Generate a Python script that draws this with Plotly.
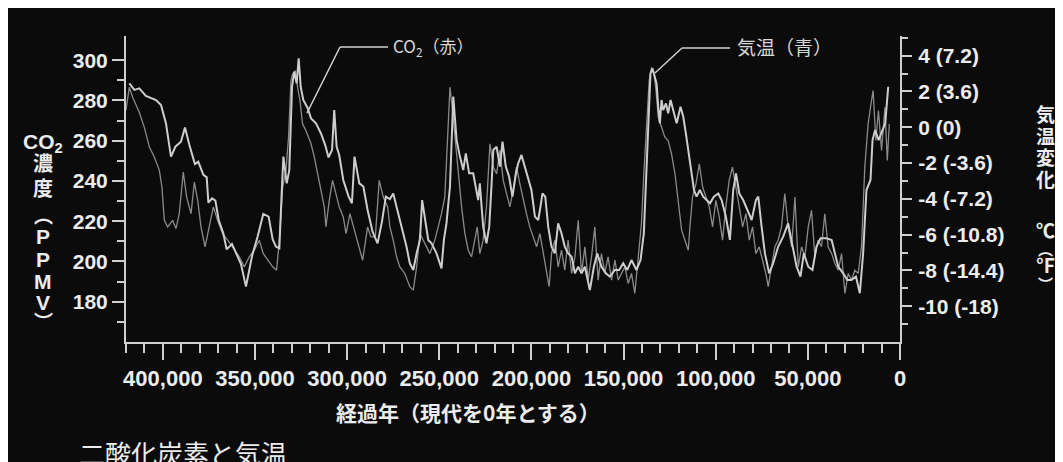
import plotly.graph_objects as go

# ---------------- data ----------------
# CO2 concentration (ppmv) vs age (thousand years before present)
co2_age_ka = [418.2, 415.5, 412.8, 409.2, 403.7, 401.0, 398.3, 395.6, 393.2, 390.2, 388.0, 385.6,
              382.6, 380.8, 378.0, 376.2, 375.3, 373.3, 371.5, 369.7, 367.2, 365.4, 362.5, 360.3,
              357.6, 354.9, 351.6, 348.6, 345.5, 342.6, 340.4, 338.6, 336.8, 335.6, 334.6, 332.8,
              331.4, 329.9, 328.7, 327.4, 326.3, 325.2, 323.8, 321.4, 319.6, 316.9, 314.2, 311.9,
              310.1, 308.2, 307.0, 305.7, 304.3, 302.1, 299.2, 297.4, 296.0, 293.4, 291.2, 288.9,
              286.2, 283.5, 281.1, 279.0, 276.8, 275.0, 273.2, 270.5, 267.8, 266.0, 264.1, 262.3,
              260.5, 259.3, 257.8, 256.0, 254.2, 251.5, 248.8, 247.5, 246.1, 244.2, 242.4, 240.6,
              238.8, 237.0, 235.6, 233.8, 231.6, 230.1, 228.9, 228.0, 226.2, 224.4, 222.9, 221.6,
              220.7, 218.9, 217.1, 215.7, 213.9, 212.1, 210.3, 208.4, 207.2, 205.4, 203.6, 201.8,
              200.0, 198.1, 196.3, 195.1, 194.0, 192.5, 190.9, 189.1, 187.3, 185.5, 183.7, 181.9,
              180.1, 178.2, 176.4, 174.6, 172.8, 171.0, 168.3, 166.1, 164.3, 162.0, 159.6, 157.5,
              154.7, 152.4, 150.2, 148.0, 145.7, 143.0, 140.8, 139.0, 137.6, 136.5, 135.4, 134.3,
              133.0, 132.1, 131.2, 130.3, 129.4, 128.5, 127.0, 125.8, 124.5, 123.0, 121.2, 119.1,
              117.6, 116.2, 114.4, 113.1, 111.8, 110.4, 108.6, 106.8, 104.6, 103.1, 101.0, 98.6,
              96.8, 94.5, 92.3, 90.5, 89.0, 87.2, 85.1, 82.9, 80.5, 78.2, 76.9, 75.1,
              73.3, 71.0, 68.8, 66.1, 63.4, 60.7, 58.3, 56.1, 54.0, 52.2, 49.8, 47.5,
              45.3, 43.1, 39.9, 37.1, 35.3, 33.5, 30.8, 28.6, 26.3, 23.9, 21.8, 20.0,
              18.2, 16.0, 14.9, 13.5, 11.6, 10.0, 8.0, 6.4]
co2_ppmv = [288.5, 285.2, 286.0, 282.2, 280.2, 277.7, 268.6, 252.1, 257.0, 259.5, 266.6, 257.8,
            248.4, 249.6, 243.0, 241.8, 229.2, 231.4, 230.2, 220.6, 214.0, 206.0, 208.7, 204.0,
            198.7, 187.5, 202.7, 212.3, 223.6, 222.3, 211.0, 207.4, 206.5, 232.2, 252.1, 238.8,
            245.4, 286.8, 294.3, 288.5, 300.9, 286.8, 280.2, 276.1, 271.1, 268.6, 263.6, 257.8,
            251.7, 255.4, 275.2, 257.0, 252.9, 240.5, 232.2, 228.9, 252.1, 238.8, 237.2, 225.6,
            214.8, 209.0, 219.8, 232.2, 231.0, 233.8, 227.2, 217.3, 207.4, 199.1, 195.8, 204.0,
            210.7, 230.5, 220.6, 210.7, 209.0, 204.0, 196.6, 210.7, 218.9, 237.2, 281.9, 260.3,
            252.1, 245.4, 253.7, 243.8, 243.8, 237.2, 230.5, 238.8, 217.3, 209.0, 217.3, 238.8,
            255.4, 257.0, 247.1, 259.5, 247.1, 242.1, 232.2, 243.8, 248.7, 252.9, 247.1, 240.5,
            235.5, 222.3, 220.6, 227.2, 233.8, 232.2, 217.3, 207.4, 204.0, 218.9, 214.0, 207.4,
            204.0, 202.4, 194.1, 197.4, 194.1, 197.4, 185.8, 197.4, 204.0, 197.4, 194.1, 192.5,
            195.8, 195.8, 199.1, 195.8, 200.7, 195.8, 200.7, 214.0, 243.8, 268.6, 293.4, 295.9,
            292.0, 288.5, 276.9, 268.6, 280.2, 275.2, 278.5, 273.6, 280.2, 274.4, 268.6, 276.9,
            271.9, 263.6, 252.1, 242.1, 235.5, 232.2, 235.5, 232.2, 230.5, 228.9, 232.2, 233.8,
            230.5, 222.3, 210.7, 235.5, 243.8, 233.8, 230.5, 225.6, 220.6, 230.5, 232.2, 217.3,
            204.0, 194.1, 199.1, 207.4, 212.3, 218.9, 207.4, 197.4, 192.5, 204.0, 197.4, 195.8,
            207.4, 211.5, 211.5, 210.7, 204.0, 197.4, 194.1, 190.8, 190.8, 192.5, 184.2, 204.0,
            235.5, 240.5, 260.3, 265.3, 260.3, 263.6, 268.6, 286.8]

# Temperature change (deg C) vs age (thousand years before present)
temp_age_ka = [420.0, 418.2, 416.4, 414.6, 412.8, 410.1, 407.3, 404.6, 401.9, 400.5, 399.2, 397.4,
               394.7, 392.9, 391.1, 388.9, 387.1, 384.7, 382.9, 381.1, 379.3, 377.1, 374.8, 372.6,
               370.3, 367.6, 364.8, 362.1, 358.5, 355.8, 353.1, 350.4, 347.7, 345.5, 343.1, 340.4,
               338.3, 336.8, 335.0, 333.2, 331.8, 330.5, 329.6, 328.1, 326.9, 325.6, 324.2, 322.4,
               319.6, 317.8, 316.0, 314.2, 312.4, 311.5, 309.7, 307.9, 306.1, 304.3, 302.1, 300.6,
               298.5, 296.1, 294.3, 291.6, 288.9, 287.1, 284.7, 282.6, 280.4, 278.0, 276.8, 275.0,
               273.2, 271.4, 268.7, 266.0, 264.1, 262.3, 260.5, 258.7, 256.9, 255.1, 252.4, 250.6,
               248.8, 247.0, 245.7, 244.2, 243.0, 241.5, 239.7, 237.9, 236.1, 234.3, 232.5, 230.7,
               229.4, 228.0, 226.2, 224.4, 222.5, 220.7, 218.9, 217.1, 215.3, 213.5, 211.7, 209.9,
               208.1, 206.3, 204.5, 202.7, 200.9, 199.0, 197.2, 195.4, 193.6, 191.8, 190.4, 189.1,
               187.3, 185.5, 183.7, 181.9, 180.1, 178.2, 176.4, 174.6, 172.8, 171.0, 169.2, 167.4,
               165.6, 163.8, 162.0, 160.2, 158.4, 156.5, 154.7, 152.9, 151.1, 149.3, 147.5, 145.7,
               143.9, 142.1, 140.3, 139.0, 137.6, 136.1, 134.8, 133.5, 132.4, 131.2, 129.4, 127.6,
               125.8, 124.0, 122.1, 120.3, 118.5, 116.7, 114.9, 114.0, 112.6, 110.7, 108.9, 107.1,
               105.3, 103.5, 101.7, 99.9, 98.1, 96.3, 94.5, 92.7, 90.9, 89.0, 87.2, 85.4,
               83.6, 81.8, 80.0, 78.2, 76.4, 74.6, 72.8, 71.5, 69.7, 67.9, 66.1, 64.3,
               62.5, 60.7, 58.8, 57.0, 55.2, 53.4, 51.6, 49.8, 48.0, 46.2, 44.4, 42.6,
               40.8, 39.0, 37.1, 35.3, 33.5, 31.7, 29.9, 28.1, 26.3, 24.5, 22.7, 20.9,
               19.1, 17.3, 16.0, 14.6, 13.1, 11.7, 10.0, 8.2, 6.9, 5.8]
temp_c = [0.94, 2.24, 1.68, 1.22, 0.84, 0.01, -1.11, -1.67, -2.41, -3.34, -5.20, -5.57,
          -5.20, -5.66, -4.83, -2.50, -3.90, -4.83, -3.06, -4.08, -5.57, -6.68, -5.57, -4.45,
          -5.20, -5.94, -6.31, -6.68, -7.24, -7.80, -7.24, -6.87, -6.31, -7.06, -7.43, -7.80,
          -7.99, -6.31, -3.34, -2.41, -0.55, 2.61, 2.98, 3.17, 2.24, 1.49, 0.19, -0.18,
          -0.92, -1.67, -2.60, -3.52, -4.45, -5.57, -4.08, -2.97, -3.71, -4.45, -5.01, -5.94,
          -4.83, -5.75, -6.50, -7.43, -5.57, -6.13, -6.13, -2.97, -3.90, -4.45, -5.57, -6.31,
          -7.24, -7.80, -8.17, -8.91, -9.10, -7.80, -5.94, -6.31, -6.68, -7.06, -6.31, -5.57,
          -4.83, -3.90, -0.74, 2.24, 1.12, -0.55, -2.60, -4.45, -5.94, -6.87, -7.24, -6.31,
          -5.57, -7.06, -6.31, -4.45, -0.92, -2.22, -2.60, -1.29, -2.97, -3.71, -4.45, -3.52,
          -2.22, -3.15, -4.08, -4.83, -5.57, -6.13, -6.68, -5.94, -7.06, -8.17, -8.91, -7.06,
          -6.31, -7.80, -6.87, -7.99, -6.31, -8.17, -7.24, -5.20, -8.17, -6.68, -8.54, -7.24,
          -5.57, -8.54, -7.06, -8.17, -7.24, -8.54, -7.43, -8.54, -8.17, -7.80, -8.73, -8.17,
          -9.29, -7.24, -5.38, -2.60, 0.19, 2.61, 3.35, 2.98, 2.05, 0.56, 0.01, -0.55,
          -0.74, -1.48, -2.60, -4.08, -5.75, -6.31, -6.87, -5.57, -3.90, -3.15, -2.04, -3.34,
          -3.90, -4.45, -5.57, -4.08, -5.01, -6.31, -4.45, -2.97, -2.22, -3.34, -4.45, -5.57,
          -4.83, -6.31, -5.57, -7.06, -6.68, -7.43, -8.17, -8.91, -7.80, -6.68, -6.31, -5.57,
          -3.71, -5.57, -6.68, -3.90, -7.80, -6.68, -7.24, -5.57, -4.64, -7.24, -6.31, -6.68,
          -4.83, -6.68, -7.06, -7.61, -7.99, -7.06, -9.29, -8.17, -8.54, -7.99, -8.17, -6.68,
          -2.22, 0.19, 1.12, 2.05, -0.74, 0.94, -1.29, 1.12, -1.85, 0.19]

x_ticks_years = [0, 50000, 100000, 150000, 200000, 250000, 300000, 350000, 400000]
co2_tick_vals = [180, 200, 220, 240, 260, 280, 300]
co2_minor_vals = [170, 190, 210, 230, 250, 270, 290]
temp_tick_vals = [-10, -8, -6, -4, -2, 0, 2, 4]
temp_tick_text = ["-10 (-18)", "-8 (-14.4)", "-6 (-10.8)", "-4 (-7.2)",
                  "-2 (-3.6)", "0 (0)", "2 (3.6)", "4 (7.2)"]
temp_minor_vals = [-11, -9, -7, -5, -3, -1, 1, 3, 5]

# ---------------- figure ----------------
# page body margin is 8px, so the figure is 1055x454 to fill the window
W, H = 1055, 454
OFF = 8
L, R, T, B = 126, 900, 36, 342   # plot area in window pixels


def px(x):
    return (x - L) / (R - L)


def py(y):
    return (B - y) / (B - T)


AXC = "#cfcfcf"
TXT = "#ececec"
BG = "#0b0b0b"

fig = go.Figure()
fig.add_trace(go.Scatter(
    x=[a * 1000 for a in temp_age_ka], y=temp_c, yaxis="y",
    mode="lines", line=dict(color="#8a8a8a", width=1.3), name="気温", hoverinfo="skip"))
fig.add_trace(go.Scatter(
    x=[a * 1000 for a in co2_age_ka], y=co2_ppmv, yaxis="y2",
    mode="lines", line=dict(color="#cdcdcd", width=2.0), name="CO2", hoverinfo="skip"))

tickfont = dict(family="Liberation Sans, Arial, sans-serif", size=21, color=TXT, weight="bold")

fig.update_layout(
    width=W, height=H,
    margin=dict(l=L - OFF, r=W + OFF - R, t=T - OFF, b=H + OFF - B, pad=0),
    paper_bgcolor=BG, plot_bgcolor=BG,
    showlegend=False,
    xaxis=dict(
        range=[420000, 0], tickvals=x_ticks_years, tickformat=",d",
        showline=True, linecolor=AXC, linewidth=2,
        ticks="outside", ticklen=16, tickwidth=2, tickcolor=AXC,
        minor=dict(dtick=10000, tick0=0, ticklen=9, tickwidth=2, tickcolor=AXC, ticks="outside"),
        showgrid=False, zeroline=False,
        tickfont=dict(tickfont, size=22), ticklabelstandoff=0,
    ),
    yaxis=dict(
        side="right", range=[-12, 5.1], tickvals=temp_tick_vals, ticktext=temp_tick_text,
        showline=True, linecolor=AXC, linewidth=2,
        ticks="outside", ticklen=10, tickwidth=2, tickcolor=AXC,
        minor=dict(tickvals=temp_minor_vals, ticklen=6, tickwidth=2, tickcolor=AXC, ticks="outside"),
        showgrid=False, zeroline=False, tickfont=tickfont, ticklabelstandoff=2,
    ),
    yaxis2=dict(
        overlaying="y", side="left", range=[160, 312], tickvals=co2_tick_vals,
        showline=True, linecolor=AXC, linewidth=2,
        ticks="outside", ticklen=12, tickwidth=2, tickcolor=AXC,
        minor=dict(tickvals=co2_minor_vals, ticklen=7, tickwidth=2, tickcolor=AXC, ticks="outside"),
        showgrid=False, zeroline=False, tickfont=tickfont, ticklabelstandoff=0,
    ),
)

shapes = []
# leader lines
for (x0, y0, x1, y1) in [(307, 113, 340, 47), (340, 47, 388, 47),
                         (655, 73, 682, 48), (682, 48, 730, 48)]:
    shapes.append(dict(type="line", xref="paper", yref="paper",
                       x0=px(x0), y0=py(y0), x1=px(x1), y1=py(y1),
                       line=dict(color="#d0d0d0", width=1.5)))
fig.update_layout(shapes=shapes)

CJK = "Noto Sans CJK JP, sans-serif"
LAT = "Liberation Sans, Arial, sans-serif"
# Latin primary font keeps tight line boxes; CJK glyphs fall back to Noto Sans CJK
STACK = "Liberation Sans, Noto Sans CJK JP, sans-serif"
ann = []


def add(text, x, y, size, family=CJK, weight="bold", xanchor="center", yanchor="middle",
        angle=0, color=TXT):
    ann.append(dict(text=text, x=px(x), y=py(y), xref="paper", yref="paper",
                    showarrow=False, xanchor=xanchor, yanchor=yanchor, textangle=angle,
                    font=dict(family=family, size=size, color=color, weight=weight)))


# left vertical title
add("CO<sub>2</sub>", 43, 143, 21, family=LAT)
add("濃", 43, 164, 20, family=STACK)
add("度", 43, 189, 20, family=STACK)
add("︵", 43, 216, 19, family=STACK)
add("P", 43, 236, 21, family=LAT)
add("P", 43, 259, 21, family=LAT)
add("M", 43, 281, 21, family=LAT)
add("V", 43, 302, 21, family=LAT)
add("︶", 43, 322, 19, family=STACK)

# right vertical title
add("気", 1045, 116, 19, family=STACK)
add("温", 1045, 137, 19, family=STACK)
add("変", 1045, 158, 19, family=STACK)
add("化", 1045, 180, 19, family=STACK)
add("℃", 1045, 231, 19, family=STACK)
add("︵", 1045, 249, 15, family=STACK)
add("℉", 1045, 266, 19, family=STACK)
add("︶", 1045, 284, 15, family=STACK)

# series labels
add("CO<sub>2</sub>（赤）", 391, 47, 17, weight="normal", xanchor="left", color="#d8d8d8")
add("気温（青）", 735, 47, 19, weight="normal", xanchor="left", color="#d8d8d8")

# x-axis title and chart title
add("経過年（現代を0年とする）", 468, 412, 21)
add("二酸化炭素と気温", 77, 432, 26, weight="normal", xanchor="left", yanchor="top")

fig.update_layout(annotations=ann)

fig.write_html("out.html")
